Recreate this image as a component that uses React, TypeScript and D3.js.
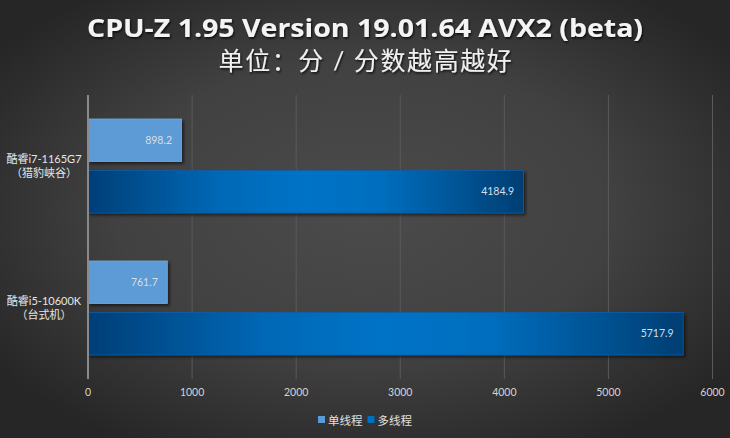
import React from "react";
import * as d3 from "d3";

const categories = ["酷睿i7-1165G7\n（猎豹峡谷）", "酷睿i5-10600K\n（台式机）"];
const seriesNames = ["单线程", "多线程"];
const singleThread = [898.2, 761.7];
const multiThread = [4184.9, 5717.9];
const xTicks = [0, 1000, 2000, 3000, 4000, 5000, 6000];
const title = "CPU-Z 1.95 Version 19.01.64 AVX2 (beta)";
const subtitle = "单位：分 / 分数越高越好";

const W = 730;
const H = 438;
const FONT = "Lato, 'Noto Sans CJK SC', sans-serif";

export default function App() {
  const left = 88, right = 712.5, top = 95, bottom = 379;
  const x = d3.scaleLinear().domain([0, 6000]).range([left, right]);
  const y = d3.scaleBand<string>().domain(categories).range([top, bottom]);
  const sub = d3
    .scaleBand<string>()
    .domain(seriesNames)
    .range([0, y.bandwidth()])
    .paddingInner(0.175)
    .paddingOuter(0.466);
  const seriesValues = [singleThread, multiThread];

  return (
    <svg width={W} height={H} style={{ position: "absolute", left: 0, top: 0 }}>
      <defs>
        <radialGradient id="bg" cx="50%" cy="48%" r="62%">
          <stop offset="0%" stopColor="#4b4b4b" />
          <stop offset="55%" stopColor="#414141" />
          <stop offset="100%" stopColor="#262626" />
        </radialGradient>
        <linearGradient id="multi" x1="0" x2="1" y1="0" y2="0">
          <stop offset="0%" stopColor="#003f77" />
          <stop offset="30%" stopColor="#0068b6" />
          <stop offset="50%" stopColor="#0073c7" />
          <stop offset="68%" stopColor="#006dbd" />
          <stop offset="100%" stopColor="#003e72" />
        </linearGradient>
        <filter id="shadow" x="-5%" y="-20%" width="115%" height="160%">
          <feDropShadow dx="2" dy="2" stdDeviation="1.5" floodColor="#000" floodOpacity="0.55" />
        </filter>
        <filter id="tshadow" x="-5%" y="-20%" width="110%" height="160%">
          <feDropShadow dx="1" dy="1.5" stdDeviation="1" floodColor="#000" floodOpacity="0.8" />
        </filter>
      </defs>
      <rect x={0} y={0} width={W} height={H} fill="url(#bg)" />

      <text
        x={365}
        y={37}
        textAnchor="middle"
        fontFamily="'Open Sans', 'Noto Sans CJK SC', sans-serif"
        fontWeight="bold"
        fontSize={25}
        textLength={556}
        lengthAdjust="spacingAndGlyphs"
        fill="#f4f4f4"
        filter="url(#tshadow)"
      >
        {title}
      </text>
      <text
        x={366}
        y={70}
        textAnchor="middle"
        fontFamily={FONT}
        fontSize={25}
        letterSpacing={1.6}
        fill="#f0f0f0"
        filter="url(#tshadow)"
      >
        {subtitle}
      </text>

      {xTicks.map((t) => (
        <g key={t}>
          {t !== 0 && (
            <line x1={x(t)} x2={x(t)} y1={top} y2={bottom} stroke="#5a5a5a" strokeWidth={1} />
          )}
          <text
            x={x(t)}
            y={396}
            textAnchor="middle"
            fontFamily={FONT}
            fontSize={10.5}
            fill="#d4d4d4"
          >
            {t}
          </text>
        </g>
      ))}

      {categories.map((c, ci) => (
        <g key={c}>
          {seriesNames.map((s, si) => {
            const v = seriesValues[si][ci];
            const y0 = (y(c) as number) + (sub(s) as number);
            const h = sub.bandwidth();
            return (
              <g key={s}>
                <rect
                  x={x(0)}
                  y={y0}
                  width={x(v) - x(0)}
                  height={h}
                  fill={si === 0 ? "#5b9bd5" : "url(#multi)"}
                  stroke={si === 0 ? "#70aadf" : "#0a5ea8"}
                  strokeWidth={0.8}
                  filter="url(#shadow)"
                />
                <text
                  x={x(v) - 9.5}
                  y={y0 + h / 2 + 3.5}
                  textAnchor="end"
                  fontFamily={FONT}
                  fontSize={10.5}
                  fill="#d6dee8"
                >
                  {v.toFixed(1)}
                </text>
              </g>
            );
          })}
          {c.split("\n").map((line, li) => (
            <text
              key={li}
              x={44}
              y={(y(c) as number) + y.bandwidth() / 2 - 3 + li * 13.5}
              textAnchor="middle"
              fontFamily={FONT}
              fontSize={11}
              fill="#e6e6e6"
            >
              {line}
            </text>
          ))}
        </g>
      ))}

      <line x1={left} x2={left} y1={top} y2={bottom} stroke="#8a8a8a" strokeWidth={2} />

      {seriesNames.map((s, i) => {
        const lx = i === 0 ? 318 : 367.5;
        return (
          <g key={s}>
            <rect x={lx} y={416} width={7} height={7} fill={i === 0 ? "#5b9bd5" : "#0070c0"} />
            <text x={lx + 10} y={424.5} fontFamily={FONT} fontSize={11.5} fill="#e0e0e0">
              {s}
            </text>
          </g>
        );
      })}
    </svg>
  );
}
